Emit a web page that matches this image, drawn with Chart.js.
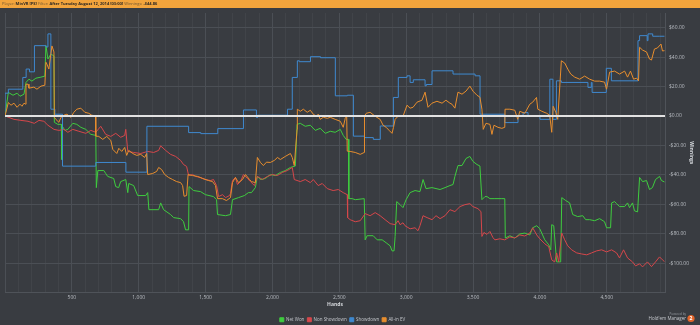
<!DOCTYPE html>
<html>
<head>
<meta charset="utf-8">
<script src="https://cdn.jsdelivr.net/npm/chart.js@4.4.0/dist/chart.umd.min.js"></script>
<style>
  html, body { margin: 0; padding: 0; background: #393c41; }
  canvas { display: block; }
</style>
</head>
<body>
<canvas id="myChart" width="700" height="325"></canvas>
<script>
(function () {
    "use strict";

    // [hand, winnings] per series
    const netWon = [[0,0],[25,16],[60,14.1],[90,15.5],[112,13.4],[142,14.8],[157,22.8],[179,25],[201,23.7],[231,25.7],[269,26.4],[298,27.1],[306,47.8],[321,38.7],[343,42.1],[366,40.8],[369,-4.3],[395,-5.7],[421,-5.7],[425,-29.6],[429,-7],[448,-9.8],[470,-9.1],[507,-5],[537,-5.7],[567,-7.7],[604,-9.1],[642,-12.5],[679,-13.2],[683,-48.7],[694,-37.1],[739,-37.1],[753,-39.1],[768,-41.1],[813,-42.5],[828,-48],[850,-48.7],[865,-44.6],[903,-43.2],[918,-52.1],[925,-45.9],[962,-47.3],[992,-54.1],[1052,-54.1],[1067,-52.1],[1076,-63.7],[1149,-63.7],[1164,-59.1],[1186,-63.7],[1238,-67],[1261,-69.1],[1313,-69.8],[1335,-71.9],[1350,-77.4],[1373,-77.4],[1376,-48],[1410,-50.7],[1462,-51.4],[1499,-53.5],[1559,-54.8],[1582,-56.9],[1589,-67],[1649,-67.8],[1686,-67],[1701,-56.9],[1746,-55.5],[1790,-54.1],[1820,-52.1],[1843,-52.1],[1872,-48.7],[1887,-41.1],[1910,-43.2],[1947,-42.5],[1984,-39.8],[2022,-40.5],[2059,-38.4],[2096,-37.1],[2134,-35],[2171,-34],[2184,-5.7],[2208,-5],[2245,-7],[2283,-6.3],[2320,-9.8],[2357,-8.4],[2395,-11.8],[2432,-10.4],[2469,-11.1],[2507,-9.1],[2529,-13.2],[2551,-15.9],[2569,-15.9],[2571,-56.2],[2596,-56.2],[2619,-56.9],[2686,-56.2],[2693,-84.2],[2708,-81.4],[2753,-81.4],[2783,-84.2],[2820,-84.2],[2850,-86.2],[2880,-88.3],[2894,-91.7],[2909,-91.7],[2917,-81.9],[2929,-58.2],[2954,-60.3],[2976,-62.3],[2999,-56.9],[3029,-52.1],[3066,-50.7],[3103,-51.4],[3126,-43.2],[3148,-49.4],[3193,-48.7],[3253,-50],[3290,-48.7],[3327,-47.3],[3350,-46.6],[3364,-41.1],[3387,-33.7],[3417,-33.7],[3447,-28.9],[3476,-27.5],[3499,-30.9],[3529,-33],[3551,-34],[3566,-56.9],[3589,-54.8],[3604,-54.8],[3626,-56.2],[3663,-56.2],[3715,-56.2],[3737,-56.2],[3741,-83],[3775,-81.4],[3812,-83],[3849,-80.2],[3887,-79.6],[3924,-80.9],[3946,-76],[3976,-74.6],[3999,-76.7],[4036,-84.2],[4066,-87.6],[4081,-91],[4088,-73.9],[4103,-74.6],[4125,-99.2],[4155,-99.2],[4163,-55.5],[4193,-57.5],[4222,-59.1],[4245,-67],[4282,-68.4],[4320,-67.8],[4342,-70.5],[4372,-70.5],[4409,-71.2],[4446,-69.8],[4483,-71.9],[4498,-76],[4528,-76],[4536,-59.1],[4558,-58.2],[4573,-59.6],[4595,-61.6],[4633,-61.6],[4655,-59.1],[4670,-62.3],[4692,-59.1],[4707,-64.5],[4730,-65.2],[4745,-41.8],[4767,-44.6],[4797,-43.9],[4819,-50],[4841,-48.7],[4864,-43.2],[4894,-41.1],[4909,-43.9],[4931,-44.86]];

    const nonShowdown = [[0,0],[67,-2.3],[119,-3],[172,-3.6],[219,-5],[254,-3],[291,-3.6],[321,-6.3],[366,-9.1],[403,-9.8],[440,-9.1],[470,-11.1],[507,-9.1],[552,-10.4],[604,-11.8],[642,-9.8],[679,-11.1],[716,-7],[753,-12.5],[791,-13.9],[828,-11.8],[865,-14.5],[895,-13.2],[903,-9.1],[918,-24.1],[962,-24.8],[1015,-25.5],[1067,-24.1],[1112,-24.8],[1149,-23.4],[1164,-20.3],[1201,-23.4],[1238,-26.1],[1276,-27.5],[1313,-30.2],[1335,-33],[1358,-34.3],[1373,-40.5],[1403,-39.8],[1425,-41.1],[1462,-41.8],[1499,-43.2],[1537,-43.9],[1559,-43.2],[1582,-47.3],[1597,-54.8],[1626,-53.5],[1649,-55.5],[1679,-54.1],[1686,-52.8],[1701,-43.9],[1723,-41.8],[1738,-46.6],[1761,-44.6],[1783,-39.8],[1813,-42.5],[1835,-44.6],[1865,-47.3],[1887,-41.1],[1925,-43.2],[1962,-41.1],[1999,-39.8],[2037,-40.5],[2074,-38.4],[2111,-37.1],[2148,-35],[2163,-43.2],[2208,-44.6],[2245,-43.2],[2283,-45.3],[2305,-43.2],[2342,-47.3],[2372,-45.9],[2410,-49.4],[2454,-50.7],[2492,-50],[2529,-52.1],[2559,-53.5],[2562,-69.1],[2581,-70.5],[2619,-71.9],[2656,-71.2],[2693,-66.4],[2730,-67.8],[2768,-65.7],[2805,-67.8],[2842,-70.5],[2880,-73.2],[2917,-73.9],[2939,-71.2],[2954,-73.9],[2976,-72.6],[2991,-74.6],[3029,-76.7],[3066,-76],[3088,-78],[3103,-74.6],[3126,-67.8],[3156,-69.1],[3193,-70.5],[3223,-67.8],[3253,-69.8],[3290,-67.8],[3327,-63.7],[3364,-65],[3402,-61.6],[3439,-60.3],[3476,-59.6],[3499,-61.6],[3536,-63],[3559,-65],[3566,-81.9],[3581,-79.2],[3604,-80.5],[3626,-78.5],[3648,-82.6],[3663,-84.2],[3700,-83.5],[3737,-84.2],[3775,-82.2],[3812,-82.9],[3849,-80.9],[3887,-81.6],[3924,-79.6],[3946,-76],[3976,-80.9],[3999,-83.5],[4036,-86.9],[4066,-88.9],[4088,-97.8],[4110,-99.2],[4125,-93.1],[4140,-99.2],[4163,-79.6],[4185,-84.2],[4208,-88.3],[4237,-91],[4275,-93.1],[4312,-93.8],[4350,-94.4],[4386,-93.1],[4424,-91.7],[4461,-91],[4498,-92.4],[4536,-91],[4573,-93.1],[4595,-96.5],[4625,-91],[4655,-96.5],[4692,-99.2],[4715,-101.9],[4745,-100.5],[4767,-102.6],[4804,-99.2],[4834,-102.4],[4864,-99.2],[4894,-95.8],[4916,-97.8],[4931,-99]];

    // showdown only moves at showdowns, so it is drawn as a step line
    const showdown = [[0,0],[25,15.5],[133,18.2],[158,26.2],[183,31.9],[220,30],[306,47.8],[321,46.9],[343,55.8],[373,4.6],[430,1.2],[679,-34.1],[904,-31.6],[1061,-38.2],[1373,-7],[1464,-11.3],[1591,-12],[1783,-8.6],[1880,4.1],[1889,-1.1],[2112,0.5],[2148,4.6],[2186,26.2],[2201,37.5],[2284,36.9],[2359,40.3],[2470,39.6],[2560,13.7],[2605,14.1],[2688,-13.7],[2754,-14.7],[2806,-15.9],[2904,-6.8],[2941,12.6],[3006,26.2],[3029,27.3],[3053,22.8],[3141,24.6],[3150,20.5],[3193,21.4],[3350,30.7],[3515,28.5],[3552,27.3],[3737,1.2],[3836,-4.5],[3874,0],[3911,2.3],[4000,0],[4074,-2.3],[4097,25],[4123,-2.3],[4160,23.9],[4359,22.8],[4384,19.4],[4390,22.8],[4496,16],[4534,32.4],[4733,23.9],[4745,51.2],[4802,54.6],[4808,51.2],[4843,55.8],[4896,54.2],[4931,54.2]];

    const allInEV = [[0,0],[25,9.1],[45,7.3],[67,8.7],[90,5.9],[112,8],[127,6.6],[142,8.7],[155,8],[157,21.6],[172,21.6],[179,18.9],[216,19.6],[239,18.2],[269,20.3],[298,20.9],[306,36.5],[313,35.3],[328,31.9],[343,42.1],[351,47.6],[366,43.5],[369,-0.9],[380,-2.3],[403,-4.3],[418,-1],[440,0.5],[463,1.2],[492,-0.9],[515,2.5],[537,4.6],[567,5.3],[597,2.5],[627,1.8],[649,0.5],[677,0.1],[679,-13.7],[701,-13.9],[731,-15.9],[761,-13.9],[791,-16.6],[806,-22.7],[836,-25.5],[851,-22],[873,-24.1],[895,-21.4],[910,-26.8],[925,-23.4],[955,-25.5],[985,-26.8],[1015,-26.1],[1044,-28.2],[1059,-25.5],[1067,-39.8],[1104,-39.1],[1134,-37.7],[1149,-35],[1171,-36.4],[1194,-39.8],[1223,-41.8],[1253,-43.2],[1283,-44.6],[1313,-45.3],[1328,-47.3],[1339,-54.6],[1358,-54.1],[1369,-39.8],[1403,-40.5],[1440,-41.1],[1477,-42.5],[1522,-43.9],[1552,-44.6],[1574,-47.3],[1589,-56.2],[1626,-56.2],[1656,-57.5],[1686,-55.5],[1701,-45.3],[1723,-41.8],[1746,-45.3],[1776,-43.2],[1798,-39.8],[1828,-43.2],[1843,-44.6],[1872,-45.3],[1887,-28.2],[1910,-31.6],[1932,-33.7],[1955,-31.4],[1984,-31.6],[2014,-30.2],[2037,-28.2],[2059,-29.6],[2096,-27.5],[2134,-25.5],[2148,-28.2],[2163,-33.7],[2184,-9.1],[2186,4.6],[2208,3.2],[2231,4.6],[2260,2.5],[2283,3.9],[2305,1.2],[2328,-0.2],[2342,1.2],[2357,-2.3],[2380,-0.9],[2410,-1.6],[2432,-0.9],[2469,-2.3],[2507,-3.6],[2529,-7.7],[2544,-1.6],[2555,-0.2],[2559,-23.9],[2581,-24.1],[2619,-24.8],[2656,-26.1],[2686,-24.8],[2688,0],[2701,1.8],[2730,2.5],[2768,-0.2],[2805,-2.3],[2827,-6.3],[2850,-7.7],[2872,-9.8],[2894,-11.8],[2905,-7.7],[2917,-2.3],[2939,-0.2],[2976,-0.2],[3006,7.3],[3029,5.3],[3051,5.9],[3081,9.4],[3118,10.7],[3141,16.2],[3163,5.9],[3193,8.7],[3230,10],[3268,8.7],[3297,10.7],[3327,8.7],[3342,8],[3364,5.3],[3387,16.2],[3417,14.8],[3447,16.9],[3476,20.3],[3499,16.9],[3529,14.1],[3551,12.8],[3566,4.6],[3576,-9.1],[3596,-5],[3626,-5.7],[3641,-12.5],[3656,-6.3],[3686,-7.7],[3715,-8.4],[3737,-7.7],[3739,4.6],[3775,4.6],[3812,3.9],[3834,-2.3],[3849,3.2],[3887,1.8],[3924,8],[3946,9.4],[3974,12.6],[3984,4.6],[4014,3.2],[4051,1.8],[4073,0.5],[4088,-11.1],[4099,6.6],[4118,2.5],[4133,-2.3],[4160,37.5],[4185,36],[4208,31.9],[4230,28.5],[4260,26.4],[4297,25],[4334,27.1],[4372,25],[4409,23.7],[4446,23.7],[4483,23],[4498,18.2],[4521,29.8],[4558,30.5],[4595,28.5],[4633,30.5],[4655,26.4],[4677,30.5],[4700,25],[4722,25.7],[4737,23.9],[4745,46.7],[4767,44.8],[4797,43.5],[4819,38.7],[4834,38],[4856,45.5],[4878,46.2],[4905,48.9],[4916,44.2],[4931,44.4]];

    const seriesNames = ['Net Won', 'Non Showdown', 'Showdown', 'All-in EV'];
    const seriesColors = ['#3fcc3f', '#d6474b', '#3f89cf', '#e88e2e'];

    const headerParts = [
        ['Player: ', false], ['MinVR [PS] ', true],
        ['Filter: ', false], ['After Tuesday August 12, 2014 [03:00] ', true],
        ['Winnings: ', false], ['-$44.86', true]
    ];

    const FONT = "'Open Sans', sans-serif";
    const gridMajor = '#4b4f55';
    const gridMinor = '#414449';
    const textColor = '#b9bdc3';

    function toPoints(pairs) {
        return pairs.map(p => ({x: p[0], y: p[1]}));
    }

    function money(v) {
        let s = '$' + Math.abs(v).toFixed(2);
        return v < 0 ? '-' + s : s;
    }

    // background, orange filter bar and the logo
    const frame = {
        id: 'frame',
        beforeDraw(chart) {
            const ctx = chart.ctx;
            ctx.save();
            ctx.fillStyle = '#393c41';
            ctx.fillRect(0, 0, chart.width, chart.height);
            ctx.fillStyle = '#f2a43c';
            ctx.fillRect(0, 0, chart.width, 8);
            ctx.textBaseline = 'middle';
            let x = 2;
            headerParts.forEach(([txt, bold]) => {
                ctx.font = (bold ? 'bold ' : '') + '4px ' + FONT;
                ctx.fillStyle = bold ? '#2f2a24' : '#6e5532';
                ctx.fillText(txt, x, 4.2);
                x += ctx.measureText(txt).width;
            });
            ctx.restore();
        },
        afterDraw(chart) {
            const ctx = chart.ctx;
            ctx.save();
            ctx.textAlign = 'right';
            ctx.textBaseline = 'middle';
            ctx.fillStyle = '#9a9ea4';
            ctx.font = '3px ' + FONT;
            ctx.fillText('Powered by', 686, 314);
            ctx.font = '4.5px ' + FONT;
            ctx.fillStyle = '#c6c9ce';
            ctx.fillText("Hold'em Manager", 686, 319);
            ctx.beginPath();
            ctx.arc(691, 318.5, 3.6, 0, Math.PI * 2);
            ctx.fillStyle = '#e4652a';
            ctx.fill();
            ctx.fillStyle = '#ffffff';
            ctx.textAlign = 'center';
            ctx.font = 'bold 5px ' + FONT;
            ctx.fillText('2', 691, 318.8);
            ctx.restore();
        },
        afterLayout(chart) {
            // push the legend row down to the bottom edge
            chart.legend.top += 7;
            chart.legend.bottom += 7;
            chart.legend.left -= 10;
            chart.legend.right -= 10;
        }
    };

    // zero line over the series
    const zeroLine = {
        id: 'zeroLine',
        afterDatasetsDraw(chart) {
            const {ctx, chartArea, scales} = chart;
            const y = scales.y.getPixelForValue(0);
            ctx.save();
            ctx.strokeStyle = '#e2e2e2';
            ctx.lineWidth = 2;
            ctx.beginPath();
            ctx.moveTo(chartArea.left, y);
            ctx.lineTo(chartArea.right, y);
            ctx.stroke();
            ctx.restore();
        }
    };

    const allSeries = [netWon, nonShowdown, showdown, allInEV];

    let ctx = document.getElementById('myChart').getContext('2d');

    let chart = new Chart(ctx, {
        type: 'line',
        data: {
            datasets: allSeries.map((s, i) => ({
                label: seriesNames[i],
                data: toPoints(s),
                borderColor: seriesColors[i],
                backgroundColor: seriesColors[i],
                borderWidth: 1,
                pointRadius: 0,
                tension: 0,
                stepped: i === 2 ? 'after' : false,
                order: 4 - i
            }))
        },
        options: {
            responsive: false,
            animation: false,
            devicePixelRatio: 1,
            events: [],
            layout: {
                autoPadding: false,
                padding: {top: 13, left: 5, right: 0, bottom: 0}
            },
            plugins: {
                legend: {
                    position: 'bottom',
                    labels: {
                        usePointStyle: true,
                        pointStyle: 'rect',
                        boxWidth: 4,
                        boxHeight: 4,
                        padding: 3,
                        color: '#c3c6cb',
                        font: {size: 4.5, family: FONT},
                        sort: (a, b) => a.datasetIndex - b.datasetIndex
                    }
                },
                tooltip: {enabled: false}
            },
            scales: {
                x: {
                    type: 'linear',
                    min: 0,
                    max: 4935,
                    afterFit(scale) {
                        scale.height = 15;
                        scale.paddingLeft = 0;
                        scale.paddingRight = 0;
                    },
                    ticks: {
                        stepSize: 100,
                        autoSkip: false,
                        includeBounds: false,
                        maxRotation: 0,
                        padding: 2,
                        color: textColor,
                        font: {size: 5, family: FONT},
                        callback: v => (v > 0 && v % 500 === 0) ? v.toLocaleString('en-US') : ''
                    },
                    grid: {
                        drawTicks: false,
                        color: c => (c.tick && c.tick.value % 500 === 0) ? gridMajor : gridMinor,
                        lineWidth: 1
                    },
                    border: {color: '#4f5359'},
                    title: {
                        display: true,
                        text: 'Hands',
                        color: '#d4d7db',
                        font: {size: 5, weight: 'bold', family: FONT},
                        padding: {top: 0, bottom: 0}
                    }
                },
                y: {
                    type: 'linear',
                    position: 'right',
                    min: -120,
                    max: 70,
                    afterFit(scale) {
                        scale.width = 35;
                        scale.paddingTop = 0;
                        scale.paddingBottom = 0;
                    },
                    ticks: {
                        stepSize: 10,
                        autoSkip: false,
                        padding: 4,
                        color: textColor,
                        font: {size: 5, family: FONT},
                        callback: v => (v % 20 === 0 && v > -120) ? money(v) : ''
                    },
                    grid: {
                        drawTicks: false,
                        color: c => (c.tick && c.tick.value % 20 === 0) ? gridMajor : 'rgba(0,0,0,0)'
                    },
                    border: {color: '#4f5359'},
                    title: {
                        display: true,
                        text: 'Winnings',
                        color: '#d4d7db',
                        font: {size: 5, weight: 'bold', family: FONT},
                        padding: {top: 6, bottom: 0}
                    }
                }
            }
        },
        plugins: [frame, zeroLine]
    });
})();
</script>
</body>
</html>
